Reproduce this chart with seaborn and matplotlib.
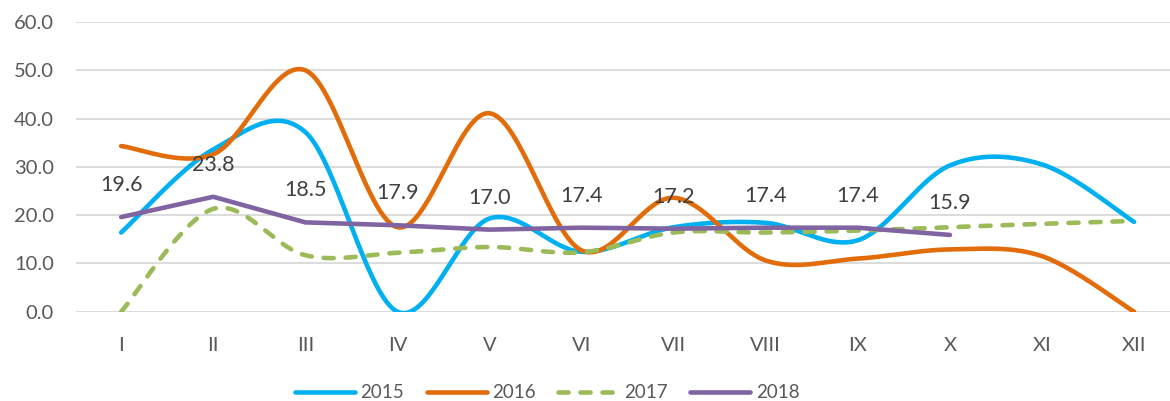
import numpy as np
import pandas as pd
import matplotlib
matplotlib.use("Agg")
import matplotlib.pyplot as plt
import seaborn as sns

months = ["I", "II", "III", "IV", "V", "VI", "VII", "VIII", "IX", "X", "XI", "XII"]
y2015 = [16.4, 33.6, 37.2, 0.0, 19.3, 12.4, 17.5, 18.4, 14.8, 30.3, 30.5, 18.6]
y2016 = [34.3, 32.6, 50.0, 17.5, 41.1, 12.7, 23.6, 10.6, 11.0, 12.9, 11.5, 0.0]
y2017 = [0.0, 21.3, 11.7, 12.2, 13.4, 12.3, 16.4, 16.4, 16.8, 17.5, 18.2, 18.8]
y2018 = [19.6, 23.8, 18.5, 17.9, 17.0, 17.4, 17.2, 17.4, 17.4, 15.9]

colors = {"2015": "#00B0F0", "2016": "#E36C0A", "2017": "#9BBB59", "2018": "#8064A2"}


def smooth(values, n=40):
    # Excel-like smoothed line: Catmull-Rom style bezier through the points
    p = np.column_stack([np.arange(len(values)), values]).astype(float)
    out = []
    for i in range(len(p) - 1):
        p0 = p[i - 1] if i > 0 else p[i]
        p1, p2 = p[i], p[i + 1]
        p3 = p[i + 2] if i + 2 < len(p) else p[i + 1]
        c1 = p1 + (p2 - p0) / 6
        c2 = p2 - (p3 - p1) / 6
        t = np.linspace(0, 1, n)[:, None]
        seg = ((1 - t) ** 3) * p1 + 3 * ((1 - t) ** 2) * t * c1 + 3 * (1 - t) * t ** 2 * c2 + t ** 3 * p2
        out.append(seg if i == 0 else seg[1:])
    return np.vstack(out)


sns.set_style("white")
plt.rcParams['font.family'] = ['Lato', 'DejaVu Sans']

fig = plt.figure(figsize=(11.7, 4.01), dpi=100)
ax = fig.add_axes([0.065, 0.2227, 0.935, 0.7224])

lw = 3.3
for name, vals in [("2015", y2015), ("2016", y2016), ("2017", y2017)]:
    s = smooth(vals)
    df = pd.DataFrame({"x": s[:, 0], "y": s[:, 1]})
    kw = dict(solid_capstyle="round")
    if name == "2017":
        kw = dict(linestyle=(0, (2.2, 2.6)), dash_capstyle="round")
    sns.lineplot(data=df, x="x", y="y", ax=ax, sort=False, estimator=None,
                 color=colors[name], linewidth=lw, label=name, **kw)

df18 = pd.DataFrame({"x": np.arange(len(y2018)), "y": y2018})
sns.lineplot(data=df18, x="x", y="y", ax=ax, sort=False, estimator=None,
             color=colors["2018"], linewidth=lw, label="2018", solid_capstyle="round")

for i, v in enumerate(y2018):
    ax.annotate(f"{v:.1f}", xy=(i, v), xytext=(0, 23), textcoords="offset points",
                ha="center", va="center", fontsize=15.5, color="#404040")

ax.set_xlim(-0.49, 11.39)
ax.set_ylim(0, 60)
ax.set_yticks(np.arange(0, 61, 10))
ax.set_yticklabels([f"{v:.1f}" for v in np.arange(0, 61, 10)])
ax.set_xticks(range(len(months)))
ax.set_xticklabels(months)
ax.tick_params(axis="y", length=0, pad=16, labelsize=14.5, labelcolor="#595959")
ax.tick_params(axis="x", length=0, pad=18, labelsize=14.5, labelcolor="#595959")
ax.grid(axis="y", color="#D9D9D9", linewidth=1.3)
ax.set_axisbelow(True)
for sp in ax.spines.values():
    sp.set_visible(False)
ax.set_xlabel("")
ax.set_ylabel("")

handles, labels = ax.get_legend_handles_labels()
ax.legend_.remove()
leg = fig.legend(handles, labels, loc="center", bbox_to_anchor=(0.4675, 0.02), ncol=4,
                 frameon=False, fontsize=13.5, handlelength=3.2, handletextpad=0.3,
                 columnspacing=1.2, labelcolor="#595959")

fig.savefig("out.png", dpi=100)
